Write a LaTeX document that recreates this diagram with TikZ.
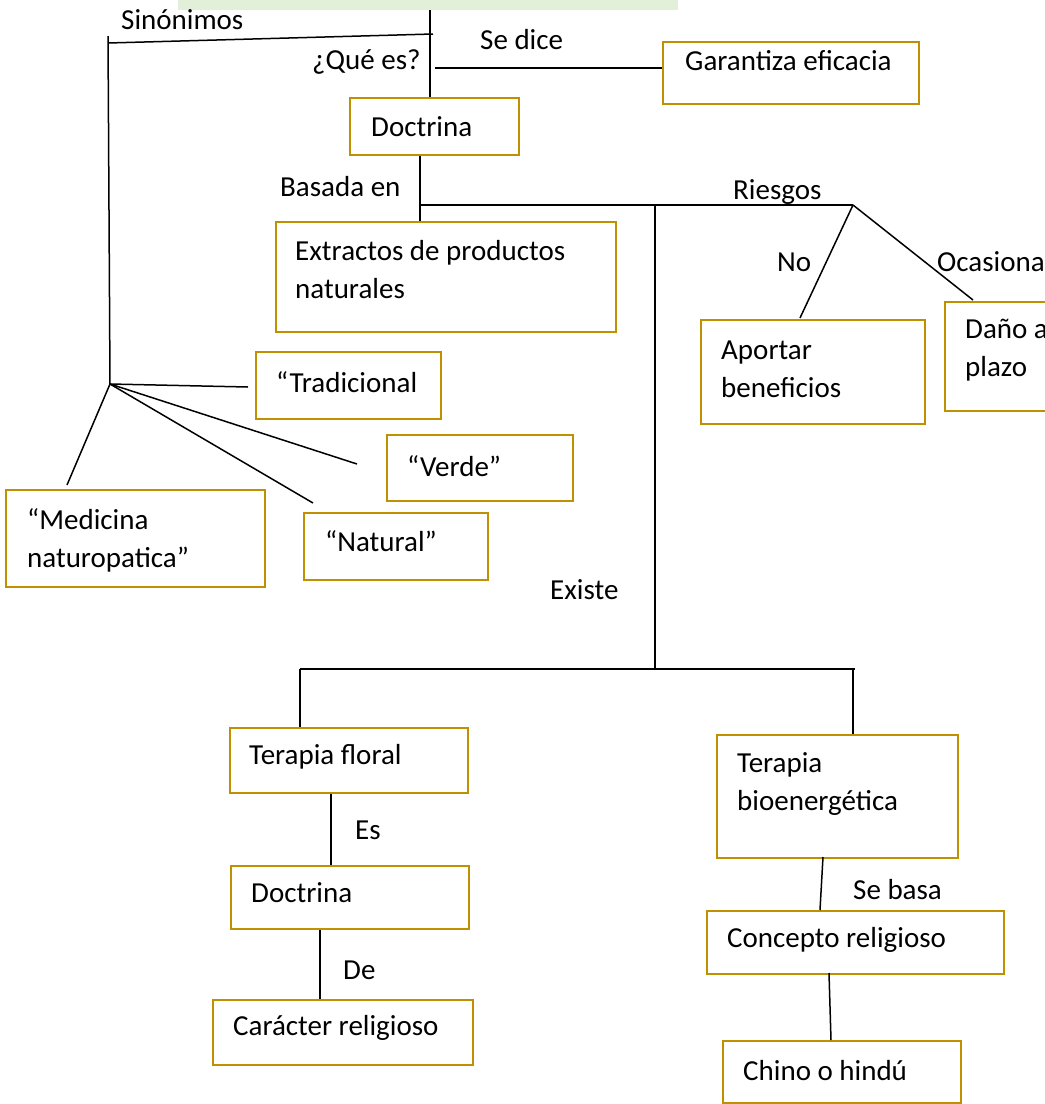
\documentclass[tikz,border=0pt]{standalone}
\usepackage{fontspec}
\setmainfont{Carlito}
\definecolor{boxgold}{HTML}{BF9000}
\definecolor{greenfill}{HTML}{E2EFD9}
\begin{document}
\begin{tikzpicture}[x=1pt,y=-1pt,
  box/.style={draw=boxgold, line width=2.2pt, anchor=north west, inner sep=0pt},
  txt/.style={anchor=west, inner sep=0pt, align=flush left, font=\fontsize{29}{38}\selectfont},
  lbl/.style={anchor=west, inner sep=0pt, font=\fontsize{29}{38}\selectfont},
  conn/.style={line width=1.5pt, draw=black}]
\useasboundingbox (0,0) rectangle (1045,1104);
\clip (0,0) rectangle (1045,1104);
% partial top box
\node[fill=greenfill, minimum width=500pt, minimum height=20pt, anchor=south west, inner sep=0pt] (top) at (178,10) {};
% boxes
\node[box, minimum width=256pt, minimum height=62pt] (garant) at (662,41) {};
\node[box, minimum width=169pt, minimum height=57pt] (doct1) at (349,97) {};
\node[box, minimum width=340pt, minimum height=110pt] (extr) at (275,221) {};
\node[box, minimum width=224pt, minimum height=104pt] (aport) at (700,319) {};
\node[box, minimum width=200pt, minimum height=109pt] (dano) at (944,301) {};
\node[box, minimum width=185pt, minimum height=67pt] (trad) at (255,351) {};
\node[box, minimum width=186pt, minimum height=66pt] (verde) at (386,434) {};
\node[box, minimum width=184pt, minimum height=67pt] (natural) at (303,512) {};
\node[box, minimum width=259pt, minimum height=97pt] (medic) at (5,489) {};
\node[box, minimum width=238pt, minimum height=65pt] (floral) at (229,727) {};
\node[box, minimum width=238pt, minimum height=63pt] (doct2) at (230,865) {};
\node[box, minimum width=260pt, minimum height=65pt] (carac) at (212,999) {};
\node[box, minimum width=241pt, minimum height=123pt] (bio) at (716,734) {};
\node[box, minimum width=297pt, minimum height=63pt] (conc) at (706,910) {};
\node[box, minimum width=238pt, minimum height=62pt] (chino) at (722,1040) {};
% box texts
\node[txt] (tgarant) at (685,61) {Garantiza eficacia};
\node[txt] (tdoct1) at (371,127) {Doctrina};
\node[txt] (textr) at (295,270) {Extractos de productos\\naturales};
\node[txt] (taport) at (721,369) {Aportar\\beneficios};
\node[txt] (tdano) at (965,350.5) {Daño a\\plazo};
\node[txt] (ttrad) at (276,382) {“Tradicional};
\node[txt] (tverde) at (407,466) {“Verde”};
\node[txt] (tnatural) at (325,541) {“Natural”};
\node[txt] (tmedic) at (27,540.5) {“Medicina\\naturopatica”};
\node[txt] (tfloral) at (249,757) {Terapia floral};
\node[txt] (tdoct2) at (251,893) {Doctrina};
\node[txt] (tcarac) at (233,1028) {Carácter religioso};
\node[txt] (tbio) at (737,784) {Terapia\\bioenergética};
\node[txt] (tconc) at (727,940) {Concepto religioso};
\node[txt] (tchino) at (743,1071) {Chino o hindú};
% labels
\node[lbl] (lsin) at (121,20) {Sinónimos};
\node[lbl] (lque) at (312,62) {¿Qué es?};
\node[lbl] (lsed) at (480,40) {Se dice};
\node[lbl] (lbas) at (280,187) {Basada en};
\node[lbl] (lrie) at (733,192) {Riesgos};
\node[lbl] (lno) at (777,262) {No};
\node[lbl] (locas) at (937,262) {Ocasiona};
\node[lbl] (lexi) at (550,590) {Existe};
\node[lbl] (les) at (355,830) {Es};
\node[lbl] (lde) at (343,970) {De};
\node[lbl] (lseb) at (853,890) {Se basa};
% junction coordinates
\coordinate (xa) at (430,0);
\coordinate (sinR) at (433,34);
\coordinate (sinL) at (108,43);
\coordinate (sinT) at (108,36);
\coordinate (jn) at (110,384);
\coordinate (queL) at (435,68);
\coordinate (xb) at (420,0);
\coordinate (hL) at (420,205);
\coordinate (hR) at (853,205);
\coordinate (vT) at (655,205);
\coordinate (vB) at (655,669);
\coordinate (bL) at (300,669);
\coordinate (bR) at (855,669);
\coordinate (bR2) at (853,669);
\coordinate (aportT) at (800,318);
\coordinate (danoT) at (973,300);
\coordinate (tradE) at (248,387);
\coordinate (verdeE) at (357,464);
\coordinate (natE) at (313,503);
\coordinate (medE) at (67,485);
\coordinate (x331) at (331,0);
\coordinate (x320) at (320,0);
\coordinate (bioB) at (823,857);
\coordinate (concT) at (820,910);
\coordinate (concB) at (829,973);
\coordinate (chinoT) at (831,1040);
% connectors
\draw[conn] (top.south -| xa) -- (doct1.north -| xa);
\draw[conn] (sinL) -- (sinR);
\draw[conn] (sinT) -- (jn);
\draw[conn] (queL) -- (garant.west |- queL);
\draw[conn] (doct1.south -| xb) -- (extr.north -| xb);
\draw[conn] (hL) -- (hR);
\draw[conn] (vT) -- (vB);
\draw[conn] (hR) -- (aportT);
\draw[conn] (hR) -- (danoT);
\draw[conn] (jn) -- (tradE);
\draw[conn] (jn) -- (verdeE);
\draw[conn] (jn) -- (natE);
\draw[conn] (jn) -- (medE);
\draw[conn] (bL) -- (bR);
\draw[conn] (bL) -- (floral.north -| bL);
\draw[conn] (bR2) -- (bio.north -| bR2);
\draw[conn] (floral.south -| x331) -- (doct2.north -| x331);
\draw[conn] (doct2.south -| x320) -- (carac.north -| x320);
\draw[conn] (bioB) -- (concT);
\draw[conn] (concB) -- (chinoT);
\end{tikzpicture}
\end{document}
